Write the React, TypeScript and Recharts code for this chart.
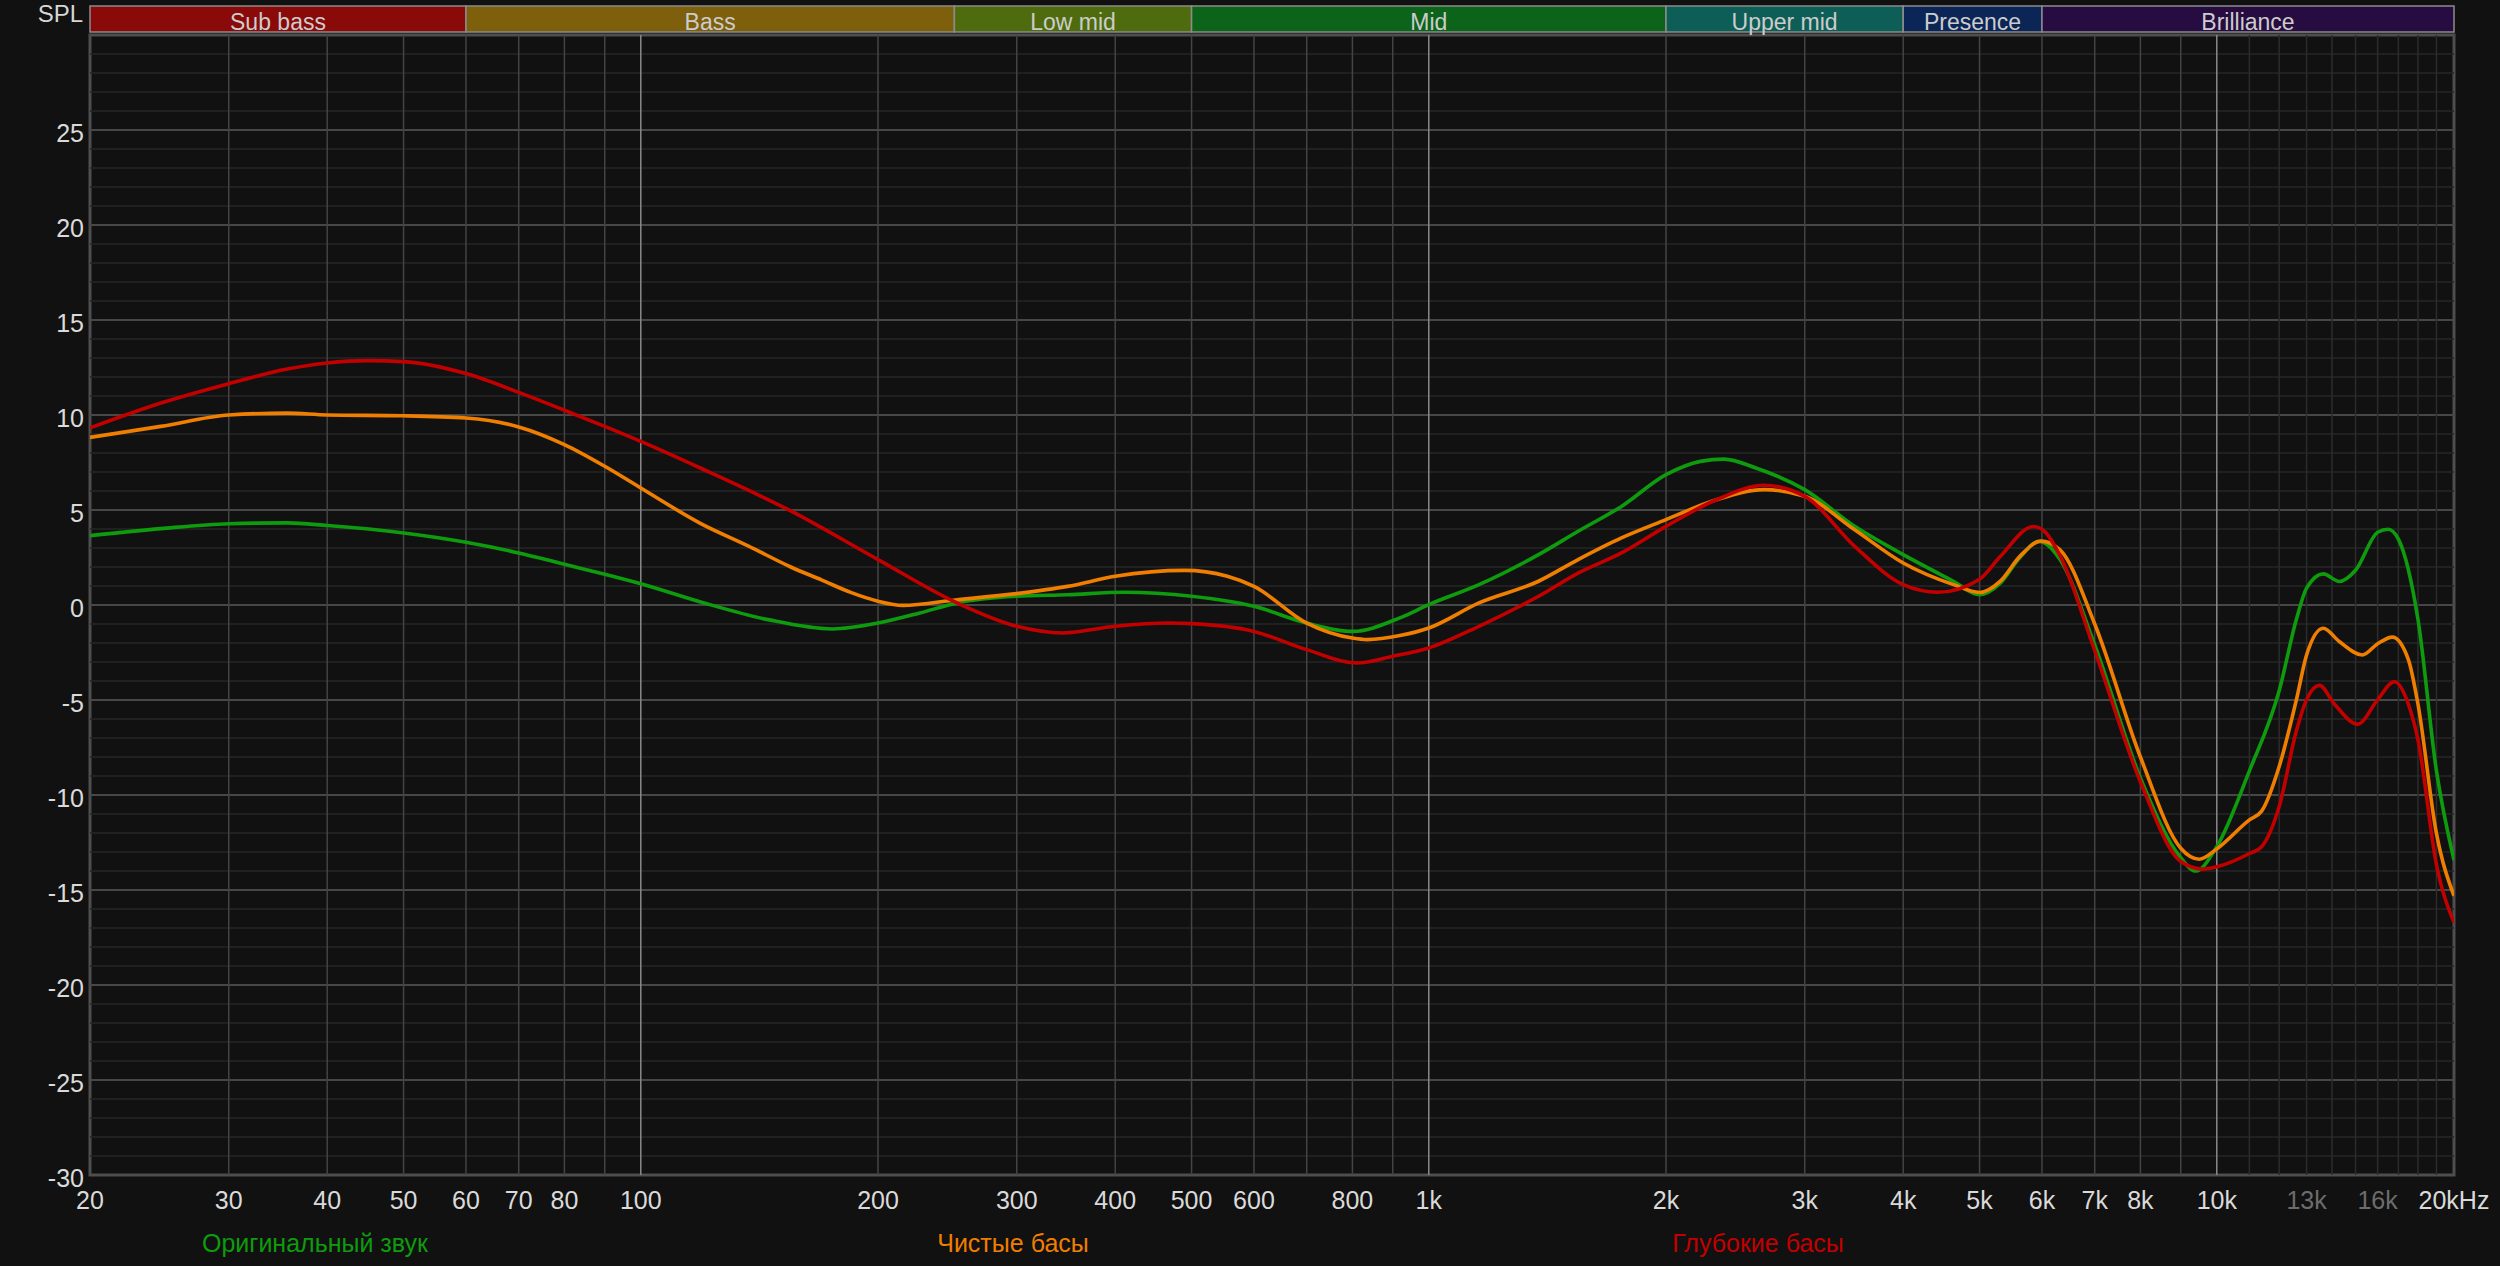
import React from 'react';
import { LineChart, Line, XAxis, YAxis, ReferenceLine, ReferenceArea } from 'recharts';

// ---------- data ----------
const originalFreq = [20, 24.6, 30, 35.6, 40, 50, 60, 70, 80, 90, 100, 120, 145, 175, 200, 226, 252, 300, 348, 410, 500, 600, 700, 800, 919, 1000, 1158, 1378, 1547, 1756, 2000, 2212, 2370, 2601, 3000, 3471, 4000, 4633, 5000, 5308, 5625, 5950, 6325, 7000, 8000, 9000, 9400, 10000, 11000, 12000, 12620, 13000, 13650, 14300, 15000, 16000, 16500, 17000, 18000, 19000, 20000];
const originalDb = [3.65, 4.02, 4.28, 4.32, 4.18, 3.79, 3.3, 2.74, 2.14, 1.62, 1.12, 0.12, -0.77, -1.26, -0.95, -0.42, 0.11, 0.46, 0.54, 0.67, 0.46, -0.07, -0.95, -1.39, -0.68, 0.02, 1.07, 2.65, 3.88, 5.19, 6.86, 7.56, 7.68, 7.21, 6.07, 4.14, 2.65, 1.25, 0.54, 1.13, 2.5, 3.35, 2.4, -2.1, -9.1, -13.3, -14.0, -12.72, -8.73, -4.51, -0.75, 0.89, 1.64, 1.24, 1.83, 3.83, 3.99, 3.47, -0.75, -8.73, -13.43];

const cleanFreq = [20, 24.6, 30, 35.6, 40, 50, 60, 70, 80, 90, 100, 119, 137, 155, 170, 185, 200, 215, 252, 300, 348, 400, 490, 555, 600, 700, 800, 835, 919, 1000, 1158, 1378, 1547, 1756, 2000, 2317, 2662, 3000, 3471, 4000, 4633, 5000, 5308, 5625, 5980, 6325, 7000, 8000, 9000, 9500, 10000, 11000, 11400, 12000, 12620, 13000, 13650, 14300, 15300, 16000, 16700, 17500, 18000, 19000, 20000];
const cleanDb = [8.82, 9.4, 10.0, 10.1, 10.0, 9.96, 9.84, 9.37, 8.44, 7.3, 6.16, 4.3, 3.1, 2.0, 1.3, 0.65, 0.2, -0.02, 0.28, 0.6, 0.98, 1.51, 1.82, 1.51, 0.98, -0.95, -1.74, -1.82, -1.61, -1.21, 0.11, 1.25, 2.39, 3.53, 4.49, 5.54, 6.07, 5.72, 3.96, 2.21, 1.07, 0.66, 1.24, 2.56, 3.36, 2.9, -1.0, -8.0, -12.8, -13.38, -12.84, -11.31, -10.85, -8.5, -4.98, -2.63, -1.22, -1.92, -2.63, -2.04, -1.69, -2.86, -5.21, -12.02, -15.31];

const deepFreq = [20, 24.6, 30, 35.6, 40, 45, 50, 60, 70, 80, 90, 100, 119, 155, 200, 252, 300, 343, 400, 467, 500, 600, 700, 810, 900, 1000, 1158, 1378, 1547, 1756, 2000, 2317, 2662, 3000, 3471, 4000, 4427, 5000, 5308, 5850, 6000, 6325, 7000, 8000, 9000, 9600, 10000, 11000, 11400, 12000, 12620, 13000, 13500, 14100, 15100, 16000, 16800, 17500, 18000, 19000, 20000];
const deepDb = [9.32, 10.63, 11.65, 12.42, 12.74, 12.86, 12.81, 12.18, 11.19, 10.25, 9.4, 8.61, 7.21, 4.95, 2.39, 0.11, -1.12, -1.47, -1.12, -0.95, -0.98, -1.39, -2.35, -3.05, -2.7, -2.26, -1.12, 0.46, 1.68, 2.74, 4.14, 5.54, 6.3, 5.72, 3.09, 1.07, 0.67, 1.36, 2.54, 4.13, 3.99, 2.6, -2.4, -9.3, -13.5, -13.9, -13.78, -13.08, -12.72, -10.61, -6.62, -4.98, -4.23, -5.21, -6.27, -4.98, -4.04, -5.21, -7.09, -13.66, -16.71];

const seriesNames = ['Оригинальный звук', 'Чистые басы', 'Глубокие басы'];
const seriesColors = ['#0e9b0e', '#f07e00', '#c20000'];
const legendCenters = [315, 1013, 1758];

const xTicks = [20, 30, 40, 50, 60, 70, 80, 100, 200, 300, 400, 500, 600, 800, 1000, 2000, 3000, 4000, 5000, 6000, 7000, 8000, 10000, 13000, 16000, 20000];
const xTickLabels = ['20', '30', '40', '50', '60', '70', '80', '100', '200', '300', '400', '500', '600', '800', '1k', '2k', '3k', '4k', '5k', '6k', '7k', '8k', '10k', '13k', '16k', '20kHz'];
const dimXTicks = [13000, 16000];
const yTicks = [-30, -25, -20, -15, -10, -5, 0, 5, 10, 15, 20, 25];

const bandNames = ['Sub bass', 'Bass', 'Low mid', 'Mid', 'Upper mid', 'Presence', 'Brilliance'];
const bandEdges = [20, 60, 250, 500, 2000, 4000, 6000, 20000];
const bandColors = ['#8a0909', '#7e5f0b', '#4e6c0d', '#0b6419', '#0c5e56', '#0b2557', '#260c40'];

const verticalGrid = [30, 40, 50, 60, 70, 80, 90, 100, 200, 300, 400, 500, 600, 700, 800, 900, 1000, 2000, 3000, 4000, 5000, 6000, 7000, 8000, 9000, 10000, 11000, 12000, 13000, 14000, 15000, 16000, 17000, 18000, 19000];
const brightGrid = [100, 1000, 10000];
const horizontalGrid: number[] = [];
for (let v = -29; v <= 29; v++) horizontalGrid.push(v);

const toData = (fs: number[], ds: number[]) => fs.map((f, i) => ({ f, db: ds[i] }));
const seriesData = [toData(originalFreq, originalDb), toData(cleanFreq, cleanDb), toData(deepFreq, deepDb)];

// ---------- layout ----------
const W = 2500;
const H = 1266;
const FONT = '"Liberation Sans", Arial, sans-serif';
const BAND_TOP = 31.53;
const BAND_BOTTOM = 30.16;

const XTick = (props: any) => {
  const { x, y, payload } = props;
  const i = xTicks.indexOf(payload.value);
  const dim = dimXTicks.includes(payload.value);
  return (
    <text x={x} y={y + 34} textAnchor="middle" fill={dim ? '#6c6c6c' : '#dadada'} fontSize={25} fontFamily={FONT}>
      {xTickLabels[i]}
    </text>
  );
};

const YTick = (props: any) => {
  const { x, y, payload } = props;
  return (
    <text x={x} y={y + 12} textAnchor="end" fill="#dadada" fontSize={25} fontFamily={FONT}>
      {payload.value}
    </text>
  );
};

const bandLabel = (name: string) => (p: any) => {
  const vb = p.viewBox || {};
  return (
    <text x={vb.x + vb.width / 2} y={vb.y + vb.height - 2} textAnchor="middle" fill="#cccccc" fontSize={23} fontFamily={FONT}>
      {name}
    </text>
  );
};

export default function App() {
  return (
    <div style={{ position: 'absolute', left: 0, top: 0, width: W, height: H, background: '#111111', overflow: 'hidden' }}>
      <LineChart width={W} height={H} margin={{ top: 35, right: 46, bottom: 0, left: 0 }}>
        <XAxis
          dataKey="f"
          type="number"
          scale="log"
          domain={[20, 20000]}
          allowDataOverflow
          ticks={xTicks}
          interval={0}
          height={91}
          tickLine={false}
          axisLine={false}
          tickSize={0}
          tickMargin={0}
          tick={<XTick />}
        />
        <YAxis
          type="number"
          domain={[-30, 30]}
          allowDataOverflow
          ticks={yTicks}
          interval={0}
          width={90}
          tickLine={false}
          axisLine={false}
          tickSize={0}
          tickMargin={6}
          tick={<YTick />}
        />
        {horizontalGrid.map((v) => (
          <ReferenceLine key={'h' + v} y={v} stroke={v % 5 === 0 ? '#474747' : '#262626'} strokeWidth={v % 5 === 0 ? 2 : 1.5} ifOverflow="hidden" />
        ))}
        {verticalGrid.map((f) => (
          <ReferenceLine
            key={'v' + f}
            x={f}
            stroke={brightGrid.includes(f) ? '#8a8a8a' : f > 10000 ? '#2c2c2c' : '#444444'}
            strokeWidth={1.5}
            ifOverflow="hidden"
          />
        ))}
        <ReferenceArea x1={20} x2={20000} y1={-30} y2={30} fill="none" fillOpacity={0} stroke="#4e4e4e" strokeWidth={3} ifOverflow="visible" />
        {bandNames.map((name, i) => (
          <ReferenceArea
            key={name}
            x1={bandEdges[i]}
            x2={bandEdges[i + 1]}
            y1={BAND_BOTTOM}
            y2={BAND_TOP}
            fill={bandColors[i]}
            fillOpacity={1}
            stroke="#8c8c8c"
            strokeWidth={1.5}
            ifOverflow="visible"
            label={bandLabel(name)}
          />
        ))}
        {seriesData.map((d, i) => (
          <Line
            key={seriesNames[i]}
            data={d}
            dataKey="db"
            name={seriesNames[i]}
            type="monotone"
            stroke={seriesColors[i]}
            strokeWidth={3.6}
            dot={false}
            activeDot={false}
            isAnimationActive={false}
          />
        ))}
      </LineChart>
      <svg width={W} height={H} style={{ position: 'absolute', left: 0, top: 0, pointerEvents: 'none' }}>
        <text x={83} y={22} textAnchor="end" fill="#d6d6d6" fontSize={24} fontFamily={FONT}>SPL</text>
        {seriesNames.map((n, i) => (
          <text key={n} x={legendCenters[i]} y={1252} textAnchor="middle" fill={seriesColors[i]} fontSize={25} fontFamily={FONT}>
            {n}
          </text>
        ))}
      </svg>
    </div>
  );
}
